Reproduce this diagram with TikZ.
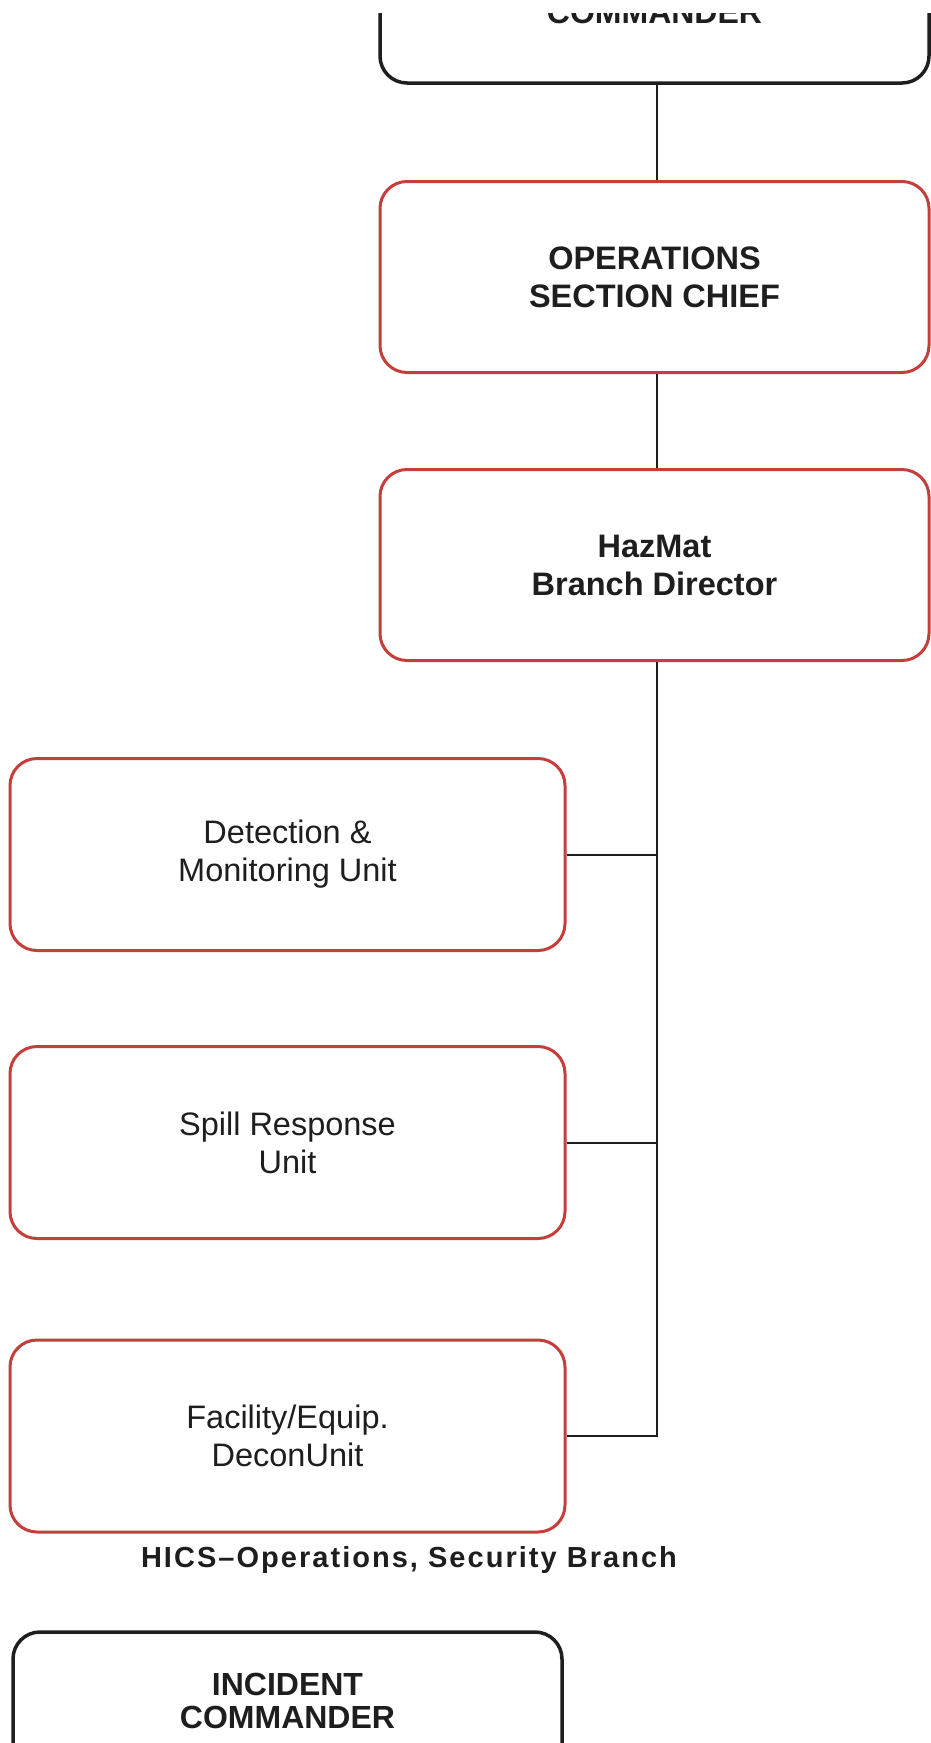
\documentclass[tikz,border=0pt]{standalone}
\usepackage{fontspec}
\setmainfont{Liberation Sans}
\definecolor{unitred}{RGB}{198,62,60}
\definecolor{inkgray}{RGB}{30,30,30}
\begin{document}
\begin{tikzpicture}[x=1pt,y=-1pt,
  chiefbox/.style={draw=unitred, line width=3pt, rounded corners=27pt,
    minimum width=549pt, minimum height=191pt, inner sep=0pt, align=center,
    font=\fontsize{32.5}{38}\selectfont\bfseries, text=inkgray},
  unitbox/.style={draw=unitred, line width=3pt, rounded corners=27pt,
    minimum width=555pt, minimum height=192pt, inner sep=0pt, align=center,
    font=\fontsize{32.5}{38}\selectfont, text=inkgray},
  cmdbox/.style={draw=inkgray, line width=3.5pt, rounded corners=27pt,
    minimum width=549pt, minimum height=155pt, inner sep=0pt},
  cmdtext/.style={align=center, inner sep=0pt, text=inkgray,
    font=\fontsize{32}{33}\selectfont\bfseries},
  conn/.style={draw=inkgray, line width=2pt},
  caption/.style={inner sep=0pt, text=inkgray,
    font=\fontsize{29}{32}\selectfont\bfseries\addfontfeatures{LetterSpace=7}}
]
\useasboundingbox (0,0) rectangle (931,1743);
\fill[white] (0,0) rectangle (931,1743);

\begin{scope}
\clip (0,13) rectangle (931,1743);

% spine of the chain of command
\coordinate (sp) at (657,0);

% upper chain
\node[cmdbox] (ictop) at (654.5,5.5) {};
\node[cmdtext] (ictoptext) at (654.5,12) {COMMANDER};
\node[chiefbox] (ops) at (654.5,277) {OPERATIONS\\SECTION CHIEF};
\node[chiefbox] (haz) at (654.5,565) {HazMat\\Branch Director};

% units
\node[unitbox] (det) at (287.5,854.5) {Detection \&\\Monitoring Unit};
\node[unitbox] (spill) at (287.5,1142.5) {Spill Response\\Unit};
\node[unitbox] (fac) at (287.5,1436) {Facility/Equip.\\DeconUnit};

% connectors
\draw[conn] (ictop.south -| sp) -- (ops.north -| sp);
\draw[conn] (ops.south -| sp) -- (haz.north -| sp);
\draw[conn] (haz.south -| sp) -- (fac.east -| sp) -- (fac.east);
\draw[conn] (det.east) -- (det.east -| sp);
\draw[conn] (spill.east) -- (spill.east -| sp);

% caption
\node[caption] (cap) at (409,1560) {HICS--Operations, Security Branch};

% next chart
\node[cmdbox] (icbot) at (287.5,1709.5) {};
\node[cmdtext] (icbottext) at (287.5,1701) {INCIDENT\\COMMANDER};
\end{scope}
\end{tikzpicture}
\end{document}
